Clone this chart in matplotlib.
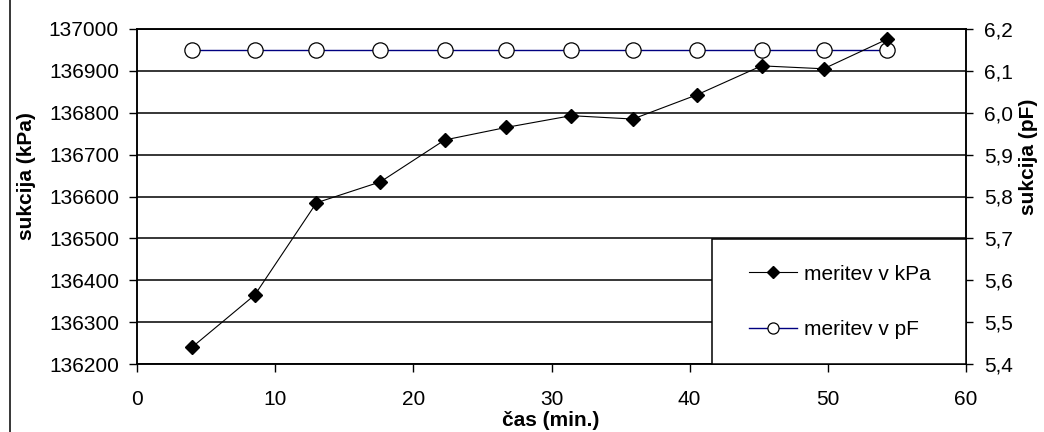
import numpy as np
import matplotlib
matplotlib.use("Agg")
import matplotlib.pyplot as plt
from matplotlib.patches import Rectangle
from matplotlib.lines import Line2D
from matplotlib.ticker import FuncFormatter, MultipleLocator

plt.rcParams['font.family'] = ['Liberation Sans', 'DejaVu Sans']

# measurement times (min.)
cas = [3.98, 8.53, 12.99, 17.62, 22.27, 26.73, 31.43, 35.89, 40.54, 45.2, 49.7, 54.25]
# suction in kPa
kpa = [136240, 136365, 136585, 136635, 136735, 136765, 136793, 136785, 136843, 136912, 136905, 136975]
# suction in pF
pf = [6.15, 6.15, 6.15, 6.15, 6.15, 6.15, 6.15, 6.15, 6.15, 6.15, 6.15, 6.15]

lab_kpa = 'meritev v kPa'
lab_pf = 'meritev v pF'

fig = plt.figure(figsize=(10.44, 4.32), dpi=100)
ax = fig.add_axes([137/1044, 1 - 364/432, (966-137)/1044, (364-29)/432])
ax2 = ax.twinx()

fs = 15

# left axis (kPa)
ax.set_xlim(0, 60)
ax.set_ylim(136200, 137000)
ax.xaxis.set_major_locator(MultipleLocator(10))
ax.yaxis.set_major_locator(MultipleLocator(100))
ax.grid(axis='y', color='black', linewidth=1.1)
ax.set_axisbelow(True)
ax.tick_params(axis='both', direction='out', length=6, width=1, colors='black', labelsize=fs)
ax.tick_params(axis='y', pad=7)
ax.tick_params(axis='x', pad=13)

# right axis (pF)
ax2.set_ylim(5.4, 6.2)
ax2.yaxis.set_major_locator(MultipleLocator(0.1))
ax2.yaxis.set_major_formatter(FuncFormatter(lambda v, p: ('%.1f' % v).replace('.', ',')))
ax2.tick_params(axis='y', direction='out', length=5, width=1, labelsize=fs, pad=8)

for a in (ax, ax2):
    for s in a.spines.values():
        s.set_color('black')
        s.set_linewidth(1.1)

# white legend box that hides the grid in the lower right corner
box = Rectangle(((712-137)/829, 0), 1 - (712-137)/829, (364-239)/335,
                transform=ax2.transAxes, facecolor='white', edgecolor='black',
                linewidth=1.1, zorder=3, clip_on=False)
ax2.add_patch(box)

ax2.plot(cas, pf, '-o', color='#000080', linewidth=1.0, markersize=11,
         markerfacecolor='white', markeredgecolor='black', markeredgewidth=0.9,
         zorder=4, clip_on=False)
# kPa series drawn on top, in the left axis data coordinates
ax2.plot(cas, kpa, '-D', color='black', linewidth=0.8, markersize=7,
         transform=ax.transData, zorder=5, clip_on=False)

h_kpa = Line2D([], [], color='black', linewidth=0.8, marker='D', markersize=6)
h_pf = Line2D([], [], color='#000080', linewidth=1.0, marker='o', markersize=8,
              markerfacecolor='white', markeredgecolor='black', markeredgewidth=0.9)
leg = ax2.legend([h_kpa, h_pf], [lab_kpa, lab_pf], loc='center left',
                 bbox_to_anchor=((749-137)/829, 1 - (302-29)/335),
                 frameon=False, fontsize=fs, handlelength=2.3, handletextpad=0.35,
                 labelspacing=1.75, borderpad=0, borderaxespad=0)
leg.set_zorder(6)

fig.text(27/1044, 1 - 176/432, 'sukcija (kPa)', rotation=90, ha='center', va='center',
         fontsize=15, fontweight='bold')
fig.text(1028/1044, 1 - 157/432, 'sukcija (pF)', rotation=90, ha='center', va='center',
         fontsize=15, fontweight='bold')
fig.text(551/1044, 1 - 420/432, 'čas (min.)', ha='center', va='center',
         fontsize=15, fontweight='bold')

# chart border
fig.patches.append(Rectangle((10/1044, -0.2), 1.2, 1.2 + 1 - 10/432, transform=fig.transFigure,
                             fill=False, edgecolor='black', linewidth=1.1))

fig.savefig('out.png', dpi=100)
